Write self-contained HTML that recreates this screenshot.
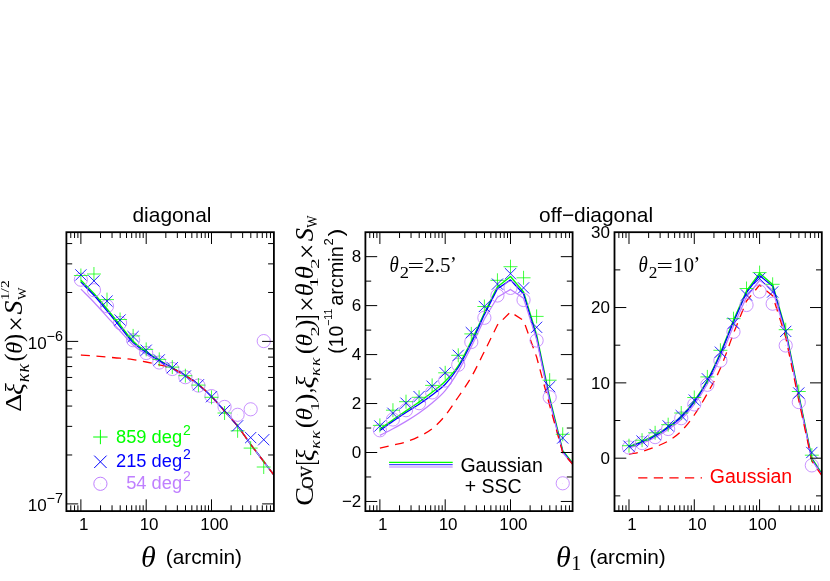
<!DOCTYPE html>
<html><head><meta charset="utf-8"><title>figure</title>
<style>html,body{margin:0;padding:0;background:#fff;}body{width:830px;height:581px;overflow:hidden;font-family:"Liberation Sans",sans-serif;}svg{display:block;will-change:transform;}</style>
</head><body>
<svg width="830" height="581" viewBox="0 0 830 581">
<defs>
<clipPath id="c0"><rect x="66.4" y="232.2" width="207.5" height="278.9"/></clipPath>
<clipPath id="c1"><rect x="365.4" y="232.2" width="207.2" height="278.9"/></clipPath>
<clipPath id="c2"><rect x="614.5" y="232.2" width="207.3" height="278.9"/></clipPath>
</defs>
<rect width="830" height="581" fill="#fff"/>
<path d="M80.89 280.3C85.24 284.7 89.59 288.72 93.95 293.5C98.3 298.28 102.65 303.75 107.01 309C111.36 314.25 115.71 319.63 120.07 325C124.42 330.37 128.77 336.78 133.13 341.2C137.48 345.62 141.83 348.35 146.19 351.5C150.54 354.65 154.89 357.4 159.25 360.1C163.6 362.8 167.95 365.13 172.31 367.7C176.66 370.27 181.01 372.68 185.37 375.5C189.72 378.32 194.07 381.1 198.43 384.6C202.78 388.1 207.13 392.1 211.49 396.5C215.84 400.9 220.19 406.05 224.55 411C228.9 415.95 233.25 420.65 237.61 426.2C241.96 431.75 246.31 438.42 250.67 444.3C255.02 450.18 259.37 455.75 263.73 461.5C267.45 466.42 271.18 471.37 274.9 476.3" fill="none" stroke="#00ff00" stroke-width="1.4" stroke-linejoin="round" clip-path="url(#c0)"/>
<path d="M80.89 282.1C85.24 286.5 89.59 290.52 93.95 295.3C98.3 300.08 102.65 305.55 107.01 310.8C111.36 316.05 115.71 321.5 120.07 326.8C124.42 332.1 128.77 338.32 133.13 342.6C137.48 346.88 141.83 349.48 146.19 352.5C150.54 355.52 154.89 358.12 159.25 360.7C163.6 363.28 167.95 365.52 172.31 368C176.66 370.48 181.01 372.83 185.37 375.6C189.72 378.37 194.07 381.12 198.43 384.6C202.78 388.08 207.13 392.1 211.49 396.5C215.84 400.9 220.19 406.05 224.55 411C228.9 415.95 233.25 420.65 237.61 426.2C241.96 431.75 246.31 438.42 250.67 444.3C255.02 450.18 259.37 455.75 263.73 461.5C267.45 466.42 271.18 471.37 274.9 476.3" fill="none" stroke="#0000ff" stroke-width="1.3" stroke-linejoin="round" clip-path="url(#c0)"/>
<path d="M80.89 289.1C85.24 293.47 89.59 297.62 93.95 302.2C98.3 306.78 102.65 311.8 107.01 316.6C111.36 321.4 115.71 326.27 120.07 331C124.42 335.73 128.77 341.12 133.13 345C137.48 348.88 141.83 351.47 146.19 354.3C150.54 357.13 154.89 359.58 159.25 362C163.6 364.42 167.95 366.47 172.31 368.8C176.66 371.13 181.01 373.33 185.37 376C189.72 378.67 194.07 381.38 198.43 384.8C202.78 388.22 207.13 392.13 211.49 396.5C215.84 400.87 220.19 406.05 224.55 411C228.9 415.95 233.25 420.65 237.61 426.2C241.96 431.75 246.31 438.42 250.67 444.3C255.02 450.18 259.37 455.75 263.73 461.5C267.45 466.42 271.18 471.37 274.9 476.3" fill="none" stroke="#bf7fff" stroke-width="1.25" stroke-linejoin="round" clip-path="url(#c0)"/>
<path d="M80.89 355C85.24 355.33 89.59 355.65 93.95 356C98.3 356.35 102.65 356.73 107.01 357.1C111.36 357.47 115.71 357.77 120.07 358.2C124.42 358.63 128.77 359.07 133.13 359.7C137.48 360.33 141.83 361.15 146.19 362C150.54 362.85 154.89 363.7 159.25 364.8C163.6 365.9 167.95 366.8 172.31 368.6C176.66 370.4 181.01 372.93 185.37 375.6C189.72 378.27 194.07 381.12 198.43 384.6C202.78 388.08 207.13 392.1 211.49 396.5C215.84 400.9 220.19 406.05 224.55 411C228.9 415.95 233.25 420.65 237.61 426.2C241.96 431.75 246.31 438.42 250.67 444.3C255.02 450.18 259.37 455.75 263.73 461.5C267.45 466.42 271.18 471.37 274.9 476.3" fill="none" stroke="#ff0000" stroke-width="1.3" stroke-dasharray="9 6.6" stroke-linejoin="round" clip-path="url(#c0)"/>
<g clip-path="url(#c0)" fill="none" stroke-width="0.85"><circle cx="80.89" cy="279.7" r="6.6" stroke="#bf7fff"/><circle cx="80.89" cy="279.7" r="0.4" fill="#bf7fff" fill-opacity="0.6" stroke="none"/><circle cx="93.95" cy="290.2" r="6.6" stroke="#bf7fff"/><circle cx="93.95" cy="290.2" r="0.4" fill="#bf7fff" fill-opacity="0.6" stroke="none"/><circle cx="107.01" cy="306.2" r="6.6" stroke="#bf7fff"/><circle cx="107.01" cy="306.2" r="0.4" fill="#bf7fff" fill-opacity="0.6" stroke="none"/><circle cx="120.07" cy="323" r="6.6" stroke="#bf7fff"/><circle cx="120.07" cy="323" r="0.4" fill="#bf7fff" fill-opacity="0.6" stroke="none"/><circle cx="133.13" cy="340.2" r="6.6" stroke="#bf7fff"/><circle cx="133.13" cy="340.2" r="0.4" fill="#bf7fff" fill-opacity="0.6" stroke="none"/><circle cx="146.19" cy="353" r="6.6" stroke="#bf7fff"/><circle cx="146.19" cy="353" r="0.4" fill="#bf7fff" fill-opacity="0.6" stroke="none"/><circle cx="159.25" cy="362.5" r="6.6" stroke="#bf7fff"/><circle cx="159.25" cy="362.5" r="0.4" fill="#bf7fff" fill-opacity="0.6" stroke="none"/><circle cx="172.31" cy="369" r="6.6" stroke="#bf7fff"/><circle cx="172.31" cy="369" r="0.4" fill="#bf7fff" fill-opacity="0.6" stroke="none"/><circle cx="185.37" cy="377.2" r="6.6" stroke="#bf7fff"/><circle cx="185.37" cy="377.2" r="0.4" fill="#bf7fff" fill-opacity="0.6" stroke="none"/><circle cx="198.43" cy="385.6" r="6.6" stroke="#bf7fff"/><circle cx="198.43" cy="385.6" r="0.4" fill="#bf7fff" fill-opacity="0.6" stroke="none"/><circle cx="211.49" cy="396.1" r="6.6" stroke="#bf7fff"/><circle cx="211.49" cy="396.1" r="0.4" fill="#bf7fff" fill-opacity="0.6" stroke="none"/><circle cx="224.55" cy="406.9" r="6.6" stroke="#bf7fff"/><circle cx="224.55" cy="406.9" r="0.4" fill="#bf7fff" fill-opacity="0.6" stroke="none"/><circle cx="237.61" cy="414.8" r="6.6" stroke="#bf7fff"/><circle cx="237.61" cy="414.8" r="0.4" fill="#bf7fff" fill-opacity="0.6" stroke="none"/><circle cx="250.67" cy="409.3" r="6.6" stroke="#bf7fff"/><circle cx="250.67" cy="409.3" r="0.4" fill="#bf7fff" fill-opacity="0.6" stroke="none"/><circle cx="263.73" cy="341.1" r="6.6" stroke="#bf7fff"/><circle cx="263.73" cy="341.1" r="0.4" fill="#bf7fff" fill-opacity="0.6" stroke="none"/><path d="M73.89 275.5h14M80.89 268.5v14M86.95 274h14M93.95 267v14M100.01 299.6h14M107.01 292.6v14M113.07 319.5h14M120.07 312.5v14M126.13 335.9h14M133.13 328.9v14M139.19 349.4h14M146.19 342.4v14M152.25 359.4h14M159.25 352.4v14M165.31 367.1h14M172.31 360.1v14M178.37 375.7h14M185.37 368.7v14M191.43 385.1h14M198.43 378.1v14M204.49 397.3h14M211.49 390.3v14M217.55 413h14M224.55 406v14M230.61 430.8h14M237.61 423.8v14M243.67 448.1h14M250.67 441.1v14M256.73 467h14M263.73 460v14" stroke="#00ff00" stroke-width="0.75"/><path d="M75.29 269.3l11.2 11.2M75.29 280.5l11.2 -11.2M88.35 275.3l11.2 11.2M88.35 286.5l11.2 -11.2M101.41 295.5l11.2 11.2M101.41 306.7l11.2 -11.2M114.47 314.4l11.2 11.2M114.47 325.6l11.2 -11.2M127.53 331l11.2 11.2M127.53 342.2l11.2 -11.2M140.59 344.6l11.2 11.2M140.59 355.8l11.2 -11.2M153.65 354.3l11.2 11.2M153.65 365.5l11.2 -11.2M166.71 362.1l11.2 11.2M166.71 373.3l11.2 -11.2M179.77 370.4l11.2 11.2M179.77 381.6l11.2 -11.2M192.83 379.2l11.2 11.2M192.83 390.4l11.2 -11.2M205.89 391.1l11.2 11.2M205.89 402.3l11.2 -11.2M218.95 404.9l11.2 11.2M218.95 416.1l11.2 -11.2M232.01 420.2l11.2 11.2M232.01 431.4l11.2 -11.2M245.07 432l11.2 11.2M245.07 443.2l11.2 -11.2M258.13 434.1l11.2 11.2M258.13 445.3l11.2 -11.2" stroke="#0000ff"/></g>
<path d="M80.89 232.2v11.8M80.89 511.1v-11.8M146.19 232.2v11.8M146.19 511.1v-11.8M211.49 232.2v11.8M211.49 511.1v-11.8M70.77 232.2v5.8M70.77 511.1v-5.8M74.56 232.2v5.8M74.56 511.1v-5.8M77.9 232.2v5.8M77.9 511.1v-5.8M100.54 232.2v5.8M100.54 511.1v-5.8M112.04 232.2v5.8M112.04 511.1v-5.8M120.2 232.2v5.8M120.2 511.1v-5.8M126.53 232.2v5.8M126.53 511.1v-5.8M131.7 232.2v5.8M131.7 511.1v-5.8M136.07 232.2v5.8M136.07 511.1v-5.8M139.86 232.2v5.8M139.86 511.1v-5.8M143.2 232.2v5.8M143.2 511.1v-5.8M165.84 232.2v5.8M165.84 511.1v-5.8M177.34 232.2v5.8M177.34 511.1v-5.8M185.5 232.2v5.8M185.5 511.1v-5.8M191.83 232.2v5.8M191.83 511.1v-5.8M197 232.2v5.8M197 511.1v-5.8M201.37 232.2v5.8M201.37 511.1v-5.8M205.16 232.2v5.8M205.16 511.1v-5.8M208.5 232.2v5.8M208.5 511.1v-5.8M231.14 232.2v5.8M231.14 511.1v-5.8M242.64 232.2v5.8M242.64 511.1v-5.8M250.8 232.2v5.8M250.8 511.1v-5.8M257.13 232.2v5.8M257.13 511.1v-5.8M262.3 232.2v5.8M262.3 511.1v-5.8M266.67 232.2v5.8M266.67 511.1v-5.8M270.46 232.2v5.8M270.46 511.1v-5.8M66.4 341.4h11.8M273.9 341.4h-11.8M66.4 503.9h11.8M273.9 503.9h-11.8M66.4 454.98h5.8M273.9 454.98h-5.8M66.4 426.37h5.8M273.9 426.37h-5.8M66.4 406.07h5.8M273.9 406.07h-5.8M66.4 390.32h5.8M273.9 390.32h-5.8M66.4 377.45h5.8M273.9 377.45h-5.8M66.4 366.57h5.8M273.9 366.57h-5.8M66.4 357.15h5.8M273.9 357.15h-5.8M66.4 348.84h5.8M273.9 348.84h-5.8M66.4 292.48h5.8M273.9 292.48h-5.8M66.4 263.87h5.8M273.9 263.87h-5.8M66.4 243.57h5.8M273.9 243.57h-5.8" stroke="#000" stroke-width="1" fill="none"/>
<rect x="66.4" y="232.2" width="207.5" height="278.9" fill="none" stroke="#000" stroke-width="1.8"/>
<path d="M379.89 429C384.24 425.93 388.59 422.82 392.95 419.8C397.3 416.78 401.65 413.87 406.01 410.9C410.36 407.93 414.71 405.1 419.07 402C423.42 398.9 427.77 395.77 432.13 392.3C436.48 388.83 440.83 385.62 445.19 381.2C449.54 376.78 453.89 372.48 458.25 365.8C462.6 359.12 466.95 349.9 471.31 341.1C475.66 332.3 480.01 322.37 484.37 313C488.72 304.3 493.07 295.6 497.43 286.9C501.78 283.43 506.13 279.97 510.49 276.5C514.84 281.67 519.19 286.83 523.55 292C527.9 306.33 532.25 320.67 536.61 335C540.96 355.87 545.31 376.73 549.67 397.6C554.02 415.27 558.37 432.93 562.73 450.6C566.35 455.17 569.98 459.73 573.6 464.3" fill="none" stroke="#00ff00" stroke-width="1.4" stroke-linejoin="round" clip-path="url(#c1)"/>
<path d="M379.89 430.5C384.24 427.4 388.59 424.2 392.95 421.2C397.3 418.2 401.65 415.33 406.01 412.5C410.36 409.67 414.71 407.13 419.07 404.2C423.42 401.27 427.77 398.22 432.13 394.9C436.48 391.58 440.83 388.87 445.19 384.3C449.54 379.73 453.89 374.38 458.25 367.5C462.6 360.62 466.95 351.82 471.31 343C475.66 334.18 480.01 324.07 484.37 314.6C488.72 306 493.07 297.4 497.43 288.8C501.78 285.83 506.13 282.87 510.49 279.9C514.84 284.57 519.19 289.23 523.55 293.9C527.9 308.4 532.25 322.9 536.61 337.4C540.96 358.27 545.31 379.13 549.67 400C554.02 417.23 558.37 434.47 562.73 451.7C566.35 456.13 569.98 460.57 573.6 465" fill="none" stroke="#0000ff" stroke-width="1.3" stroke-linejoin="round" clip-path="url(#c1)"/>
<path d="M379.89 435.4C384.24 433.17 388.59 431.03 392.95 428.7C397.3 426.37 401.65 424.02 406.01 421.4C410.36 418.78 414.71 416.07 419.07 413C423.42 409.93 427.77 406.73 432.13 403C436.48 399.27 440.83 395.87 445.19 390.6C449.54 385.33 453.89 378.7 458.25 371.4C462.6 364.1 466.95 355.53 471.31 346.8C475.66 338.07 480.01 328.27 484.37 319C488.72 311.77 493.07 304.53 497.43 297.3C501.78 294.67 506.13 292.03 510.49 289.4C514.84 292.37 519.19 295.33 523.55 298.3C527.9 312.07 532.25 325.83 536.61 339.6C540.96 360.33 545.31 381.07 549.67 401.8C554.02 418.73 558.37 435.67 562.73 452.6C566.35 456.93 569.98 461.27 573.6 465.6" fill="none" stroke="#bf7fff" stroke-width="1.25" stroke-linejoin="round" clip-path="url(#c1)"/>
<path d="M379.89 448.1C384.24 447.07 388.59 446.03 392.95 445C397.3 443.97 401.65 443.32 406.01 441.9C410.36 440.48 414.71 438.68 419.07 436.5C423.42 434.32 427.77 432.28 432.13 428.8C436.48 425.32 440.83 420.9 445.19 415.6C449.54 410.3 453.89 403.42 458.25 397C462.6 390.58 466.95 384.67 471.31 377.1C475.66 369.53 480.01 360.1 484.37 351.6C488.72 342.73 493.07 333.87 497.43 325C501.78 320.67 506.13 316.33 510.49 312C514.84 314.83 519.19 317.67 523.55 320.5C527.9 332.67 532.25 344.83 536.61 357C540.96 373.17 545.31 389.33 549.67 405.5C554.02 421.2 558.37 436.9 562.73 452.6C566.35 456.87 569.98 461.13 573.6 465.4" fill="none" stroke="#ff0000" stroke-width="1.3" stroke-dasharray="9 6.6" stroke-linejoin="round" clip-path="url(#c1)"/>
<g clip-path="url(#c1)" fill="none" stroke-width="0.85"><circle cx="379.89" cy="430.3" r="6.6" stroke="#bf7fff"/><circle cx="379.89" cy="430.3" r="0.4" fill="#bf7fff" fill-opacity="0.6" stroke="none"/><circle cx="392.95" cy="419.5" r="6.6" stroke="#bf7fff"/><circle cx="392.95" cy="419.5" r="0.4" fill="#bf7fff" fill-opacity="0.6" stroke="none"/><circle cx="406.01" cy="410.2" r="6.6" stroke="#bf7fff"/><circle cx="406.01" cy="410.2" r="0.4" fill="#bf7fff" fill-opacity="0.6" stroke="none"/><circle cx="419.07" cy="403.2" r="6.6" stroke="#bf7fff"/><circle cx="419.07" cy="403.2" r="0.4" fill="#bf7fff" fill-opacity="0.6" stroke="none"/><circle cx="432.13" cy="392.4" r="6.6" stroke="#bf7fff"/><circle cx="432.13" cy="392.4" r="0.4" fill="#bf7fff" fill-opacity="0.6" stroke="none"/><circle cx="445.19" cy="380.5" r="6.6" stroke="#bf7fff"/><circle cx="445.19" cy="380.5" r="0.4" fill="#bf7fff" fill-opacity="0.6" stroke="none"/><circle cx="458.25" cy="364.8" r="6.6" stroke="#bf7fff"/><circle cx="458.25" cy="364.8" r="0.4" fill="#bf7fff" fill-opacity="0.6" stroke="none"/><circle cx="471.31" cy="342" r="6.6" stroke="#bf7fff"/><circle cx="471.31" cy="342" r="0.4" fill="#bf7fff" fill-opacity="0.6" stroke="none"/><circle cx="484.37" cy="317.8" r="6.6" stroke="#bf7fff"/><circle cx="484.37" cy="317.8" r="0.4" fill="#bf7fff" fill-opacity="0.6" stroke="none"/><circle cx="497.43" cy="295.5" r="6.6" stroke="#bf7fff"/><circle cx="497.43" cy="295.5" r="0.4" fill="#bf7fff" fill-opacity="0.6" stroke="none"/><circle cx="510.49" cy="287.9" r="6.6" stroke="#bf7fff"/><circle cx="510.49" cy="287.9" r="0.4" fill="#bf7fff" fill-opacity="0.6" stroke="none"/><circle cx="523.55" cy="300" r="6.6" stroke="#bf7fff"/><circle cx="523.55" cy="300" r="0.4" fill="#bf7fff" fill-opacity="0.6" stroke="none"/><circle cx="536.61" cy="340.5" r="6.6" stroke="#bf7fff"/><circle cx="536.61" cy="340.5" r="0.4" fill="#bf7fff" fill-opacity="0.6" stroke="none"/><circle cx="549.67" cy="397.2" r="6.6" stroke="#bf7fff"/><circle cx="549.67" cy="397.2" r="0.4" fill="#bf7fff" fill-opacity="0.6" stroke="none"/><circle cx="562.73" cy="483.3" r="6.6" stroke="#bf7fff"/><circle cx="562.73" cy="483.3" r="0.4" fill="#bf7fff" fill-opacity="0.6" stroke="none"/><path d="M372.89 425.4h14M379.89 418.4v14M385.95 410.2h14M392.95 403.2v14M399.01 401.7h14M406.01 394.7v14M412.07 397.3h14M419.07 390.3v14M425.13 385.4h14M432.13 378.4v14M438.19 372.8h14M445.19 365.8v14M451.25 355.3h14M458.25 348.3v14M464.31 333.9h14M471.31 326.9v14M477.37 306.5h14M484.37 299.5v14M490.43 280.3h14M497.43 273.3v14M503.49 266.7h14M510.49 259.7v14M516.55 277.8h14M523.55 270.8v14M529.61 316.4h14M536.61 309.4v14M542.67 380.2h14M549.67 373.2v14M555.73 434.3h14M562.73 427.3v14" stroke="#00ff00" stroke-width="0.75"/><path d="M374.29 420.4l11.2 11.2M374.29 431.6l11.2 -11.2M387.35 407.7l11.2 11.2M387.35 418.9l11.2 -11.2M400.41 397.6l11.2 11.2M400.41 408.8l11.2 -11.2M413.47 391l11.2 11.2M413.47 402.2l11.2 -11.2M426.53 380.6l11.2 11.2M426.53 391.8l11.2 -11.2M439.59 367.2l11.2 11.2M439.59 378.4l11.2 -11.2M452.65 349.7l11.2 11.2M452.65 360.9l11.2 -11.2M465.71 327l11.2 11.2M465.71 338.2l11.2 -11.2M478.77 300.9l11.2 11.2M478.77 312.1l11.2 -11.2M491.83 278.5l11.2 11.2M491.83 289.7l11.2 -11.2M504.89 268.1l11.2 11.2M504.89 279.3l11.2 -11.2M517.95 282.3l11.2 11.2M517.95 293.5l11.2 -11.2M531.01 321.7l11.2 11.2M531.01 332.9l11.2 -11.2M544.07 381l11.2 11.2M544.07 392.2l11.2 -11.2M557.13 432.4l11.2 11.2M557.13 443.6l11.2 -11.2" stroke="#0000ff"/></g>
<path d="M379.89 232.2v11.8M379.89 511.1v-11.8M445.19 232.2v11.8M445.19 511.1v-11.8M510.49 232.2v11.8M510.49 511.1v-11.8M369.77 232.2v5.8M369.77 511.1v-5.8M373.56 232.2v5.8M373.56 511.1v-5.8M376.9 232.2v5.8M376.9 511.1v-5.8M399.54 232.2v5.8M399.54 511.1v-5.8M411.04 232.2v5.8M411.04 511.1v-5.8M419.2 232.2v5.8M419.2 511.1v-5.8M425.53 232.2v5.8M425.53 511.1v-5.8M430.7 232.2v5.8M430.7 511.1v-5.8M435.07 232.2v5.8M435.07 511.1v-5.8M438.86 232.2v5.8M438.86 511.1v-5.8M442.2 232.2v5.8M442.2 511.1v-5.8M464.84 232.2v5.8M464.84 511.1v-5.8M476.34 232.2v5.8M476.34 511.1v-5.8M484.5 232.2v5.8M484.5 511.1v-5.8M490.83 232.2v5.8M490.83 511.1v-5.8M496 232.2v5.8M496 511.1v-5.8M500.37 232.2v5.8M500.37 511.1v-5.8M504.16 232.2v5.8M504.16 511.1v-5.8M507.5 232.2v5.8M507.5 511.1v-5.8M530.14 232.2v5.8M530.14 511.1v-5.8M541.64 232.2v5.8M541.64 511.1v-5.8M549.8 232.2v5.8M549.8 511.1v-5.8M556.13 232.2v5.8M556.13 511.1v-5.8M561.3 232.2v5.8M561.3 511.1v-5.8M565.67 232.2v5.8M565.67 511.1v-5.8M569.46 232.2v5.8M569.46 511.1v-5.8M365.4 501.46h11.8M572.6 501.46h-11.8M365.4 452.5h11.8M572.6 452.5h-11.8M365.4 403.54h11.8M572.6 403.54h-11.8M365.4 354.58h11.8M572.6 354.58h-11.8M365.4 305.62h11.8M572.6 305.62h-11.8M365.4 256.66h11.8M572.6 256.66h-11.8M365.4 476.98h5.8M572.6 476.98h-5.8M365.4 428.02h5.8M572.6 428.02h-5.8M365.4 379.06h5.8M572.6 379.06h-5.8M365.4 330.1h5.8M572.6 330.1h-5.8M365.4 281.14h5.8M572.6 281.14h-5.8" stroke="#000" stroke-width="1" fill="none"/>
<rect x="365.4" y="232.2" width="207.2" height="278.9" fill="none" stroke="#000" stroke-width="1.8"/>
<path d="M628.99 446.6C633.34 444.87 637.69 443.32 642.05 441.4C646.4 439.48 650.75 437.53 655.11 435.1C659.46 432.67 663.81 429.9 668.17 426.8C672.52 423.7 676.87 420.8 681.23 416.5C685.58 412.2 689.93 407.03 694.29 401C698.64 394.97 702.99 388.35 707.35 380.3C711.7 372.25 716.05 362.72 720.41 352.7C724.76 342.68 729.11 331.03 733.47 320.2C737.82 310.47 742.17 300.73 746.53 291C750.88 285.07 755.23 279.13 759.59 273.2C763.94 276.97 768.29 280.73 772.65 284.5C777 299.73 781.35 314.97 785.71 330.2C790.06 351.67 794.41 373.13 798.77 394.6C803.12 415.8 807.47 437 811.83 458.2C815.48 463.8 819.14 469.4 822.8 475" fill="none" stroke="#00ff00" stroke-width="1.4" stroke-linejoin="round" clip-path="url(#c2)"/>
<path d="M628.99 447C633.34 445.33 637.69 443.83 642.05 442C646.4 440.17 650.75 438.4 655.11 436C659.46 433.6 663.81 430.72 668.17 427.6C672.52 424.48 676.87 421.57 681.23 417.3C685.58 413.03 689.93 408 694.29 402C698.64 396 702.99 389.3 707.35 381.3C711.7 373.3 716.05 363.88 720.41 354C724.76 344.12 729.11 332.67 733.47 322C737.82 312.17 742.17 302.33 746.53 292.5C750.88 286.83 755.23 281.17 759.59 275.5C763.94 279.1 768.29 282.7 772.65 286.3C777 301.53 781.35 316.77 785.71 332C790.06 353.43 794.41 374.87 798.77 396.3C803.12 417.33 807.47 438.37 811.83 459.4C815.48 464.93 819.14 470.47 822.8 476" fill="none" stroke="#0000ff" stroke-width="1.3" stroke-linejoin="round" clip-path="url(#c2)"/>
<path d="M628.99 448C633.34 446.5 637.69 445.25 642.05 443.5C646.4 441.75 650.75 439.83 655.11 437.5C659.46 435.17 663.81 432.5 668.17 429.5C672.52 426.5 676.87 423.67 681.23 419.5C685.58 415.33 689.93 410.42 694.29 404.5C698.64 398.58 702.99 391.83 707.35 384C711.7 376.17 716.05 367.17 720.41 357.5C724.76 347.83 729.11 336.5 733.47 326C737.82 316.33 742.17 306.67 746.53 297C750.88 291.43 755.23 285.87 759.59 280.3C763.94 283.53 768.29 286.77 772.65 290C777 304.67 781.35 319.33 785.71 334C790.06 355.33 794.41 376.67 798.77 398C803.12 418.73 807.47 439.47 811.83 460.2C815.48 465.67 819.14 471.13 822.8 476.6" fill="none" stroke="#bf7fff" stroke-width="1.25" stroke-linejoin="round" clip-path="url(#c2)"/>
<path d="M628.99 454.3C633.34 453.37 637.69 452.72 642.05 451.5C646.4 450.28 650.75 448.75 655.11 447C659.46 445.25 663.81 443.63 668.17 441C672.52 438.37 676.87 435.53 681.23 431.2C685.58 426.87 689.93 421.28 694.29 415C698.64 408.72 702.99 401.28 707.35 393.5C711.7 385.72 716.05 378.32 720.41 368.3C724.76 358.28 729.11 345.03 733.47 333.4C737.82 322.6 742.17 311.8 746.53 301C750.88 295.67 755.23 290.33 759.59 285C763.94 288.6 768.29 292.2 772.65 295.8C777 309.63 781.35 323.47 785.71 337.3C790.06 358.3 794.41 379.3 798.77 400.3C803.12 420.53 807.47 440.77 811.83 461C815.48 466.33 819.14 471.67 822.8 477" fill="none" stroke="#ff0000" stroke-width="1.3" stroke-dasharray="9 6.6" stroke-linejoin="round" clip-path="url(#c2)"/>
<g clip-path="url(#c2)" fill="none" stroke-width="0.85"><circle cx="628.99" cy="447.5" r="6.6" stroke="#bf7fff"/><circle cx="628.99" cy="447.5" r="0.4" fill="#bf7fff" fill-opacity="0.6" stroke="none"/><circle cx="642.05" cy="443.1" r="6.6" stroke="#bf7fff"/><circle cx="642.05" cy="443.1" r="0.4" fill="#bf7fff" fill-opacity="0.6" stroke="none"/><circle cx="655.11" cy="437.1" r="6.6" stroke="#bf7fff"/><circle cx="655.11" cy="437.1" r="0.4" fill="#bf7fff" fill-opacity="0.6" stroke="none"/><circle cx="668.17" cy="429" r="6.6" stroke="#bf7fff"/><circle cx="668.17" cy="429" r="0.4" fill="#bf7fff" fill-opacity="0.6" stroke="none"/><circle cx="681.23" cy="418.2" r="6.6" stroke="#bf7fff"/><circle cx="681.23" cy="418.2" r="0.4" fill="#bf7fff" fill-opacity="0.6" stroke="none"/><circle cx="694.29" cy="404.4" r="6.6" stroke="#bf7fff"/><circle cx="694.29" cy="404.4" r="0.4" fill="#bf7fff" fill-opacity="0.6" stroke="none"/><circle cx="707.35" cy="384.8" r="6.6" stroke="#bf7fff"/><circle cx="707.35" cy="384.8" r="0.4" fill="#bf7fff" fill-opacity="0.6" stroke="none"/><circle cx="720.41" cy="360.6" r="6.6" stroke="#bf7fff"/><circle cx="720.41" cy="360.6" r="0.4" fill="#bf7fff" fill-opacity="0.6" stroke="none"/><circle cx="733.47" cy="331.8" r="6.6" stroke="#bf7fff"/><circle cx="733.47" cy="331.8" r="0.4" fill="#bf7fff" fill-opacity="0.6" stroke="none"/><circle cx="746.53" cy="305" r="6.6" stroke="#bf7fff"/><circle cx="746.53" cy="305" r="0.4" fill="#bf7fff" fill-opacity="0.6" stroke="none"/><circle cx="759.59" cy="291.5" r="6.6" stroke="#bf7fff"/><circle cx="759.59" cy="291.5" r="0.4" fill="#bf7fff" fill-opacity="0.6" stroke="none"/><circle cx="772.65" cy="303.7" r="6.6" stroke="#bf7fff"/><circle cx="772.65" cy="303.7" r="0.4" fill="#bf7fff" fill-opacity="0.6" stroke="none"/><circle cx="785.71" cy="345.5" r="6.6" stroke="#bf7fff"/><circle cx="785.71" cy="345.5" r="0.4" fill="#bf7fff" fill-opacity="0.6" stroke="none"/><circle cx="798.77" cy="402.1" r="6.6" stroke="#bf7fff"/><circle cx="798.77" cy="402.1" r="0.4" fill="#bf7fff" fill-opacity="0.6" stroke="none"/><circle cx="811.83" cy="465.4" r="6.6" stroke="#bf7fff"/><circle cx="811.83" cy="465.4" r="0.4" fill="#bf7fff" fill-opacity="0.6" stroke="none"/><path d="M621.99 445.7h14M628.99 438.7v14M635.05 440.2h14M642.05 433.2v14M648.11 432.8h14M655.11 425.8v14M661.17 424.7h14M668.17 417.7v14M674.23 413h14M681.23 406v14M687.29 397.5h14M694.29 390.5v14M700.35 376.9h14M707.35 369.9v14M713.41 350.3h14M720.41 343.3v14M726.47 318.7h14M733.47 311.7v14M739.53 288.5h14M746.53 281.5v14M752.59 272.6h14M759.59 265.6v14M765.65 284.3h14M772.65 277.3v14M778.71 329.7h14M785.71 322.7v14M791.77 391.5h14M798.77 384.5v14M804.83 455.2h14M811.83 448.2v14" stroke="#00ff00" stroke-width="0.75"/><path d="M623.39 440.6l11.2 11.2M623.39 451.8l11.2 -11.2M636.45 435.5l11.2 11.2M636.45 446.7l11.2 -11.2M649.51 428.9l11.2 11.2M649.51 440.1l11.2 -11.2M662.57 420.3l11.2 11.2M662.57 431.5l11.2 -11.2M675.63 410l11.2 11.2M675.63 421.2l11.2 -11.2M688.69 394.5l11.2 11.2M688.69 405.7l11.2 -11.2M701.75 373.2l11.2 11.2M701.75 384.4l11.2 -11.2M714.81 346.6l11.2 11.2M714.81 357.8l11.2 -11.2M727.87 317.6l11.2 11.2M727.87 328.8l11.2 -11.2M740.93 289.4l11.2 11.2M740.93 300.6l11.2 -11.2M753.99 272.9l11.2 11.2M753.99 284.1l11.2 -11.2M767.05 286.4l11.2 11.2M767.05 297.6l11.2 -11.2M780.11 325.8l11.2 11.2M780.11 337l11.2 -11.2M793.17 387.4l11.2 11.2M793.17 398.6l11.2 -11.2M806.23 446.9l11.2 11.2M806.23 458.1l11.2 -11.2" stroke="#0000ff"/></g>
<path d="M628.99 232.2v11.8M628.99 511.1v-11.8M694.29 232.2v11.8M694.29 511.1v-11.8M759.59 232.2v11.8M759.59 511.1v-11.8M618.87 232.2v5.8M618.87 511.1v-5.8M622.66 232.2v5.8M622.66 511.1v-5.8M626 232.2v5.8M626 511.1v-5.8M648.64 232.2v5.8M648.64 511.1v-5.8M660.14 232.2v5.8M660.14 511.1v-5.8M668.3 232.2v5.8M668.3 511.1v-5.8M674.63 232.2v5.8M674.63 511.1v-5.8M679.8 232.2v5.8M679.8 511.1v-5.8M684.17 232.2v5.8M684.17 511.1v-5.8M687.96 232.2v5.8M687.96 511.1v-5.8M691.3 232.2v5.8M691.3 511.1v-5.8M713.94 232.2v5.8M713.94 511.1v-5.8M725.44 232.2v5.8M725.44 511.1v-5.8M733.6 232.2v5.8M733.6 511.1v-5.8M739.93 232.2v5.8M739.93 511.1v-5.8M745.1 232.2v5.8M745.1 511.1v-5.8M749.47 232.2v5.8M749.47 511.1v-5.8M753.26 232.2v5.8M753.26 511.1v-5.8M756.6 232.2v5.8M756.6 511.1v-5.8M779.24 232.2v5.8M779.24 511.1v-5.8M790.74 232.2v5.8M790.74 511.1v-5.8M798.9 232.2v5.8M798.9 511.1v-5.8M805.23 232.2v5.8M805.23 511.1v-5.8M810.4 232.2v5.8M810.4 511.1v-5.8M814.77 232.2v5.8M814.77 511.1v-5.8M818.56 232.2v5.8M818.56 511.1v-5.8M614.5 458.2h11.8M821.8 458.2h-11.8M614.5 382.87h11.8M821.8 382.87h-11.8M614.5 307.54h11.8M821.8 307.54h-11.8M614.5 495.87h5.8M821.8 495.87h-5.8M614.5 420.53h5.8M821.8 420.53h-5.8M614.5 345.2h5.8M821.8 345.2h-5.8M614.5 269.88h5.8M821.8 269.88h-5.8" stroke="#000" stroke-width="1" fill="none"/>
<rect x="614.5" y="232.2" width="207.3" height="278.9" fill="none" stroke="#000" stroke-width="1.8"/>
<text x="83.79" y="530.3" font-family='"Liberation Sans", sans-serif' font-size="17" text-anchor="middle" fill="#000">1</text>
<text x="149.09" y="530.3" font-family='"Liberation Sans", sans-serif' font-size="17" text-anchor="middle" fill="#000">10</text>
<text x="214.39" y="530.3" font-family='"Liberation Sans", sans-serif' font-size="17" text-anchor="middle" fill="#000">100</text>
<text x="382.79" y="530.3" font-family='"Liberation Sans", sans-serif' font-size="17" text-anchor="middle" fill="#000">1</text>
<text x="448.09" y="530.3" font-family='"Liberation Sans", sans-serif' font-size="17" text-anchor="middle" fill="#000">10</text>
<text x="513.39" y="530.3" font-family='"Liberation Sans", sans-serif' font-size="17" text-anchor="middle" fill="#000">100</text>
<text x="631.89" y="530.3" font-family='"Liberation Sans", sans-serif' font-size="17" text-anchor="middle" fill="#000">1</text>
<text x="697.19" y="530.3" font-family='"Liberation Sans", sans-serif' font-size="17" text-anchor="middle" fill="#000">10</text>
<text x="762.49" y="530.3" font-family='"Liberation Sans", sans-serif' font-size="17" text-anchor="middle" fill="#000">100</text>
<text x="27.7" y="348.7" font-family='"Liberation Sans", sans-serif' font-size="17" fill="#000">10<tspan dy="-8.0" font-size="14.3">−6</tspan></text>
<text x="27.7" y="511.2" font-family='"Liberation Sans", sans-serif' font-size="17" fill="#000">10<tspan dy="-8.0" font-size="14.3">−7</tspan></text>
<text x="361.3" y="507.26" font-family='"Liberation Sans", sans-serif' font-size="17" text-anchor="end" fill="#000">−2</text>
<text x="361.3" y="458.3" font-family='"Liberation Sans", sans-serif' font-size="17" text-anchor="end" fill="#000">0</text>
<text x="361.3" y="409.34" font-family='"Liberation Sans", sans-serif' font-size="17" text-anchor="end" fill="#000">2</text>
<text x="361.3" y="360.38" font-family='"Liberation Sans", sans-serif' font-size="17" text-anchor="end" fill="#000">4</text>
<text x="361.3" y="311.42" font-family='"Liberation Sans", sans-serif' font-size="17" text-anchor="end" fill="#000">6</text>
<text x="361.3" y="262.46" font-family='"Liberation Sans", sans-serif' font-size="17" text-anchor="end" fill="#000">8</text>
<text x="610" y="464" font-family='"Liberation Sans", sans-serif' font-size="17" text-anchor="end" fill="#000">0</text>
<text x="610" y="388.67" font-family='"Liberation Sans", sans-serif' font-size="17" text-anchor="end" fill="#000">10</text>
<text x="610" y="313.34" font-family='"Liberation Sans", sans-serif' font-size="17" text-anchor="end" fill="#000">20</text>
<text x="610" y="238.01" font-family='"Liberation Sans", sans-serif' font-size="17" text-anchor="end" fill="#000">30</text>
<text x="172" y="222.2" font-family='"Liberation Sans", sans-serif' font-size="20.9" text-anchor="middle" fill="#000">diagonal</text>
<text x="596.1" y="222.2" font-family='"Liberation Sans", sans-serif' font-size="20.9" text-anchor="middle" fill="#000">off−diagonal</text>
<text x="141" y="566.8" font-family='"Liberation Serif", serif' font-size="30" font-style="italic">θ</text>
<text x="165.8" y="564.2" font-family='"Liberation Sans", sans-serif' font-size="20.8" text-anchor="start" fill="#000">(arcmin)</text>
<text x="556" y="566.8" font-family='"Liberation Serif", serif' font-size="30" font-style="italic">θ<tspan font-style="normal" font-size="20" dy="3" dx="0.5">1</tspan></text>
<text x="589.5" y="564.2" font-family='"Liberation Sans", sans-serif' font-size="20.8" text-anchor="start" fill="#000">(arcmin)</text>
<path d="M93.2 437h14.4M100.4 429.8v14.4" stroke="#00ff00" stroke-width="1" fill="none"/>
<text x="116" y="442.8" font-family='"Liberation Sans", sans-serif' font-size="18.3" fill="#00ff00" xml:space="preserve">859 deg<tspan dy="-8" dx="0.8" font-size="14">2</tspan></text>
<path d="M94.2 455.6l12.4 12.4M94.2 468l12.4 -12.4" stroke="#0000ff" stroke-width="1" fill="none"/>
<text x="116" y="467.0" font-family='"Liberation Sans", sans-serif' font-size="18.3" fill="#0000ff" xml:space="preserve">215 deg<tspan dy="-8" dx="0.8" font-size="14">2</tspan></text>
<circle cx="100.4" cy="483.8" r="6.6" stroke="#bf7fff" stroke-width="1" fill="none"/><circle cx="100.4" cy="483.8" r="0.4" fill="#bf7fff" fill-opacity="0.6"/>
<text x="116" y="489.0" font-family='"Liberation Sans", sans-serif' font-size="18.3" fill="#bf7fff" xml:space="preserve">  54 deg<tspan dy="-8" dx="0.8" font-size="14">2</tspan></text>
<path d="M389.1 462.3H452.7" stroke="#00ff00" stroke-width="1.2" fill="none"/>
<path d="M389.1 464.7H452.7" stroke="#0000ff" stroke-width="0.9" fill="none"/>
<path d="M389.1 467.0H452.7" stroke="#bf7fff" stroke-width="1.2" fill="none"/>
<text x="460.4" y="471.5" font-family='"Liberation Sans", sans-serif' font-size="19.5" text-anchor="start" fill="#000">Gaussian</text>
<text x="464.8" y="493.1" font-family='"Liberation Sans", sans-serif' font-size="19.5" text-anchor="start" fill="#000">+ SSC</text>
<path d="M638.2 477.8H702" stroke="#ff0000" stroke-width="1.3" stroke-dasharray="9.2 6.4" fill="none"/>
<text x="709.8" y="482.8" font-family='"Liberation Sans", sans-serif' font-size="19.5" text-anchor="start" fill="#ff0000">Gaussian</text>
<g font-family='"Liberation Serif", serif' fill="#000"><g transform="rotate(-90)">
<text transform="translate(-411.84 21.3) scale(1.1893 1)" font-size="23.48">Δ</text>
<text transform="translate(-395.02 23.02) scale(1.1176 1)" font-size="24.61" font-style="italic">ξ</text>
<text transform="translate(-382.36 29.3) scale(1.0503 1)" font-size="17.83" font-style="italic">κ</text>
<text transform="translate(-372.56 29.3) scale(1.0384 1)" font-size="17.83" font-style="italic">κ</text>
<text transform="translate(-361.46 22.32) scale(0.9672 1)" font-size="24.89">(</text>
<text transform="translate(-353.78 22.26) scale(1.0382 1)" font-size="23.52" font-style="italic">θ</text>
<text transform="translate(-342.03 22.32) scale(0.9735 1)" font-size="24.89">)</text>
<text transform="translate(-331.83 24.83) scale(1.0265 1)" font-size="26.9">×</text>
<text transform="translate(-314.48 22.11) scale(1.1215 1)" font-size="24.71" font-style="italic">S</text>
<text transform="translate(-299.7 25.53) scale(0.9639 1)" font-size="13.43">W</text>
<text transform="translate(-300.25 9.47) scale(1.3671 1)" font-size="11.47">1/2</text>
<text transform="translate(-505.74 312.91) scale(1.1515 1)" font-size="24.71">C</text>
<text transform="translate(-488.78 312.75) scale(0.9590 1)" font-size="17.65" stroke="#000" stroke-width="0.35">O</text>
<text transform="translate(-477.26 312.35) scale(0.9111 1)" font-size="17.31" stroke="#000" stroke-width="0.35">V</text>
<text transform="translate(-465.51 315.12) scale(0.6603 1)" font-size="28.31">[</text>
<text transform="translate(-461.14 313.93) scale(1.0930 1)" font-size="25.62" font-style="italic">ξ</text>
<text transform="translate(-448.64 319.8) scale(1.1579 1)" font-size="15.43" font-style="italic">κ</text>
<text transform="translate(-438.94 319.8) scale(1.1579 1)" font-size="15.43" font-style="italic">κ</text>
<text transform="translate(-428.15 312.81) scale(1.0165 1)" font-size="25.87">(</text>
<text transform="translate(-420.42 312.46) scale(1.0876 1)" font-size="23.52" font-style="italic">θ</text>
<text transform="translate(-411.28 318.5) scale(1.5683 1)" font-size="12.58">1</text>
<text transform="translate(-402.72 312.81) scale(1.0556 1)" font-size="25.87">)</text>
<text transform="translate(-392.92 312.66) scale(0.8379 1)" font-size="24.62">,</text>
<text transform="translate(-388.57 313.93) scale(1.1320 1)" font-size="25.62" font-style="italic">ξ</text>
<text transform="translate(-376.04 319.8) scale(1.1579 1)" font-size="15.43" font-style="italic">κ</text>
<text transform="translate(-365.94 319.8) scale(1.1579 1)" font-size="15.43" font-style="italic">κ</text>
<text transform="translate(-354.25 312.81) scale(1.0165 1)" font-size="25.87">(</text>
<text transform="translate(-346.52 312.46) scale(1.0876 1)" font-size="23.52" font-style="italic">θ</text>
<text transform="translate(-336.62 318.67) scale(1.5961 1)" font-size="12.84">2</text>
<text transform="translate(-328.17 312.81) scale(0.9961 1)" font-size="25.87">)</text>
<text transform="translate(-320.89 315.12) scale(0.6910 1)" font-size="28.31">]</text>
<text transform="translate(-311.93 316.01) scale(1.0000 1)" font-size="27.62">×</text>
<text transform="translate(-296.34 313.44) scale(0.9942 1)" font-size="26.2" font-style="italic">θ</text>
<text transform="translate(-287.73 318.3) scale(1.8571 1)" font-size="11.67">1</text>
<text transform="translate(-279.28 313.44) scale(1.0298 1)" font-size="26.2" font-style="italic">θ</text>
<text transform="translate(-268.96 318.67) scale(1.5978 1)" font-size="13.43">2</text>
<text transform="translate(-259.23 315.83) scale(1.0265 1)" font-size="26.9">×</text>
<text transform="translate(-241.26 313.18) scale(1.0108 1)" font-size="26.18" font-style="italic">S</text>
<text transform="translate(-227.8 316.5) scale(0.8659 1)" font-size="15.07">W</text>
<text transform="translate(-353.65 342.92) scale(0.9650 1)" font-size="19.89" font-family='"Liberation Sans", sans-serif'>(10</text>
<text transform="translate(-325.82 332) scale(0.9388 1)" font-size="11.3" font-family='"Liberation Sans", sans-serif'>−11</text>
<text transform="translate(-305.69 342.9) scale(0.9916 1)" font-size="20" font-family='"Liberation Sans", sans-serif'>arcmin</text>
<text transform="translate(-245.55 333.3) scale(1.0033 1)" font-size="13" font-family='"Liberation Sans", sans-serif'>2</text>
<text transform="translate(-236.4 342.92) scale(1.1849 1)" font-size="19.89" font-family='"Liberation Sans", sans-serif'>)</text>
</g>
<text transform="translate(389.55 272.48) scale(0.8465 1)" font-size="22.25" font-style="italic">θ</text>
<text transform="translate(399.86 278.44) scale(1.1500 1)" font-size="16.12">2</text>
<text transform="translate(407.52 272.42) scale(1.4987 1)" font-size="19.6">=</text>
<text transform="translate(424.16 271.69) scale(1.0177 1)" font-size="20.74">2.5</text>
<text transform="translate(450 270.7) scale(1.0000 1)" font-size="20">’</text>
<text transform="translate(638.45 272.48) scale(0.8465 1)" font-size="22.25" font-style="italic">θ</text>
<text transform="translate(648.81 278.44) scale(1.0743 1)" font-size="16.12">2</text>
<text transform="translate(656.53 272.42) scale(1.4881 1)" font-size="19.6">=</text>
<text transform="translate(673.35 271.69) scale(0.9971 1)" font-size="20.74">10</text>
<text transform="translate(693.5 270.7) scale(1.0000 1)" font-size="20">’</text>
</g>
</svg>
</body></html>
